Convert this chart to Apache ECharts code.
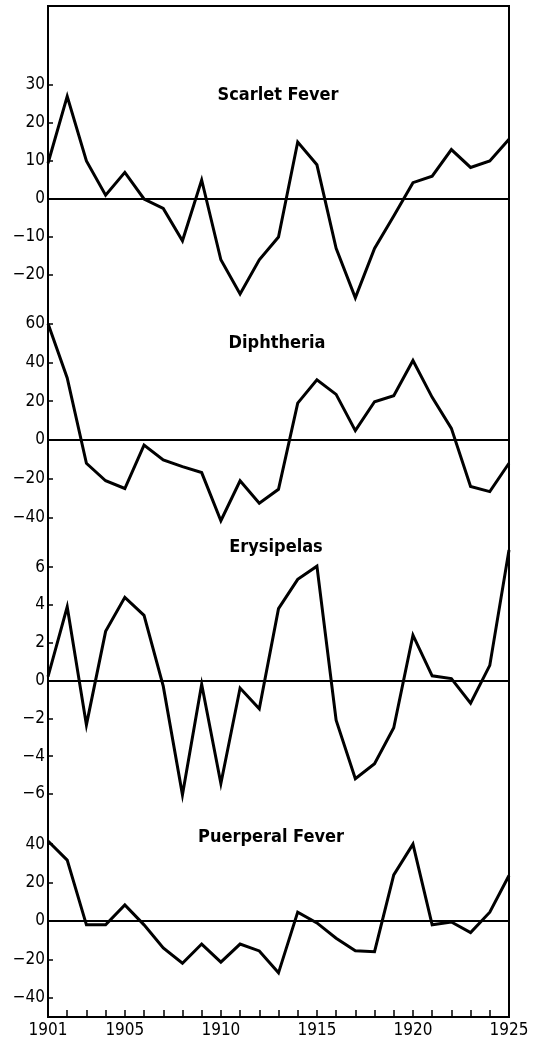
<!DOCTYPE html>
<html>
<head>
<meta charset="utf-8">
<script src="https://cdn.jsdelivr.net/npm/echarts@6/dist/echarts.min.js"></script>
<style>
html,body{margin:0;padding:0;background:#fff;}
#c{width:534px;height:1041px;}
</style>
</head>
<body>
<div id="c"></div>
<script>
const years = [1901,1902,1903,1904,1905,1906,1907,1908,1909,1910,1911,1912,1913,1914,1915,1916,1917,1918,1919,1920,1921,1922,1923,1924,1925];
const yearLabels = [1901,1905,1910,1915,1920,1925];

const scarletFever = [9.4,27,10,1,7,0,-2.5,-11,5,-16,-25,-16,-10,15,9,-13,-26,-13,-4.5,4.3,6,13,8.3,10,15.7];
const diphtheria = [60,32,-12,-21,-25,-2.6,-10.3,-13.7,-16.8,-41.6,-21,-32.6,-25.4,19,31,23.5,4.8,19.7,22.8,41,22,6,-24,-26.6,-12];
const erysipelas = [0.2,3.9,-2.35,2.6,4.4,3.45,-0.3,-6.05,-0.2,-5.45,-0.4,-1.5,3.8,5.35,6.05,-2.1,-5.2,-4.4,-2.5,2.4,0.25,0.1,-1.2,0.8,6.9];
const puerperalFever = [41.7,31.7,-2,-2,8.4,-2,-14,-22,-12,-21.4,-12,-15.6,-27,4.6,-1,-9,-15.5,-16,24,40,-2,-0.5,-6,4.6,23.7];

const scarletTicks = [-20,-10,0,10,20,30];
const diphtheriaTicks = [-40,-20,0,20,40,60];
const erysipelasTicks = [-6,-4,-2,0,2,4,6];
const puerperalTicks = [-40,-20,0,20,40];

const panelNames = ['Scarlet Fever','Diphtheria','Erysipelas','Puerperal Fever'];
const panelData = [scarletFever, diphtheria, erysipelas, puerperalFever];
const panelTicks = [scarletTicks, diphtheriaTicks, erysipelasTicks, puerperalTicks];

// layout (pixels) and ranges for each panel
const panelLayout = [
  {top: 9, height: 304, min: -30, max: 50},
  {top: 304.2, height: 232.8, min: -50, max: 70},
  {top: 529.3, height: 302.4, min: -8, max: 8},
  {top: 825, height: 192, min: -50, max: 50}
];
const titlePos = [
  {x: 278, y: 86},
  {x: 277, y: 334},
  {x: 276, y: 538},
  {x: 271, y: 828}
];

const FONT = 'DejaVu Sans Condensed';
const fmt = v => String(v).replace('-', '\u2212');

const grids = [], xAxes = [], yAxes = [], series = [], titles = [];
panelLayout.forEach((p, i) => {
  grids.push({left: 48, width: 461, top: p.top, height: p.height, show: false});
  const isBottom = i === 3;
  xAxes.push({
    type: 'value', gridIndex: i, min: 1901, max: 1925, interval: 1,
    show: isBottom,
    axisLine: {show: isBottom, onZero: false, lineStyle: {color: '#000', width: 2}},
    axisTick: {show: isBottom, inside: true, length: 7, lineStyle: {color: '#000', width: 1.5}},
    axisLabel: {
      show: isBottom, color: '#000', fontSize: 17, fontFamily: FONT, margin: 5,
      formatter: v => yearLabels.includes(v) ? String(v) : ''
    },
    splitLine: {show: false}
  });
  yAxes.push({
    type: 'value', gridIndex: i, min: p.min, max: p.max,
    axisLine: {show: false},
    axisTick: {show: true, inside: true, length: 5, customValues: panelTicks[i], lineStyle: {color: '#000', width: 1.5}},
    axisLabel: {show: true, customValues: panelTicks[i], color: '#000', fontSize: 17, fontFamily: FONT, margin: 3, formatter: fmt},
    splitLine: {show: false}
  });
  series.push({
    type: 'line', xAxisIndex: i, yAxisIndex: i,
    data: years.map((y, k) => [y, panelData[i][k]]),
    showSymbol: false, symbol: 'none', silent: true,
    lineStyle: {color: '#000', width: 3, join: 'miter'},
    markLine: {
      silent: true, symbol: 'none', animation: false,
      label: {show: false},
      lineStyle: {color: '#000', width: 2, type: 'solid'},
      data: [{yAxis: 0}]
    }
  });
  titles.push({
    text: panelNames[i], left: titlePos[i].x, top: titlePos[i].y, textAlign: 'center', padding: 0,
    textStyle: {color: '#000', fontSize: 18, fontWeight: 'bold', fontFamily: FONT}
  });
});

// outer frame
grids.push({left: 48, width: 461, top: 6, height: 1011, show: true, borderColor: '#000', borderWidth: 2, backgroundColor: 'transparent'});
xAxes.push({type: 'value', gridIndex: 4, min: 0, max: 1, show: false});
yAxes.push({type: 'value', gridIndex: 4, min: 0, max: 1, show: false});

const chart = echarts.init(document.getElementById('c'), null, {renderer: 'canvas'});
chart.setOption({
  animation: false,
  backgroundColor: '#fff',
  title: titles,
  grid: grids,
  xAxis: xAxes,
  yAxis: yAxes,
  series: series
});
</script>
</body>
</html>
